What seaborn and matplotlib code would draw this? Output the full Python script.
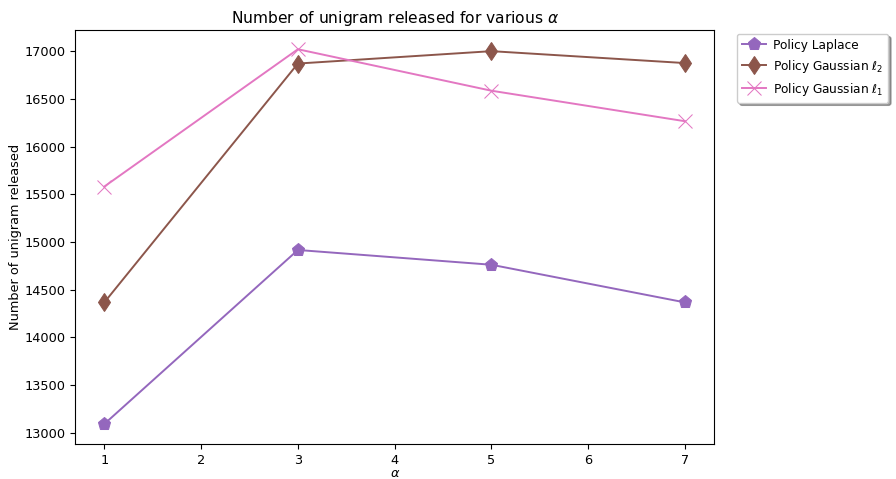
import matplotlib
matplotlib.use("Agg")
import matplotlib.pyplot as plt
import seaborn as sns
import pandas as pd

alpha = [1, 3, 5, 7]
laplace = [13090, 14915, 14760, 14365]
gauss_l2 = [14365, 16870, 17000, 16875]
gauss_l1 = [15580, 17020, 16585, 16265]
labels = ["Policy Laplace", r"Policy Gaussian $\ell_2$", r"Policy Gaussian $\ell_1$"]

plt.rcParams["font.size"] = 9.3
fig = plt.figure(figsize=(8.96, 4.79), dpi=100)
ax = fig.add_axes([0.084, 0.073, 0.713, 0.864])

series = [laplace, gauss_l2, gauss_l1]
colors = ["tab:purple", "tab:brown", "tab:pink"]
markers = ["p", "d", "x"]
for vals, lab, c, m in zip(series, labels, colors, markers):
    df = pd.DataFrame({"alpha": alpha, "val": vals})
    sns.lineplot(data=df, x="alpha", y="val", ax=ax, color=c, marker=m,
                 markersize=9.5, label=lab, markeredgecolor=c, linewidth=1.4)

ax.set_title(r"Number of unigram released for various $\alpha$", pad=5)
ax.set_xlabel(r"$\alpha$", labelpad=0)
ax.set_ylabel("Number of unigram released", labelpad=2)
ax.set_xticks([1, 2, 3, 4, 5, 6, 7])
ax.set_yticks(range(13000, 17001, 500))
ax.set_ylim(12880, 17220)
ax.set_xlim(0.7, 7.3)
ax.legend(loc="upper left", bbox_to_anchor=(1.03, 1.0), shadow=True, fancybox=True,
          fontsize=8.7, handletextpad=0.6, borderaxespad=0.3)
fig.savefig("out.png", dpi=100)
